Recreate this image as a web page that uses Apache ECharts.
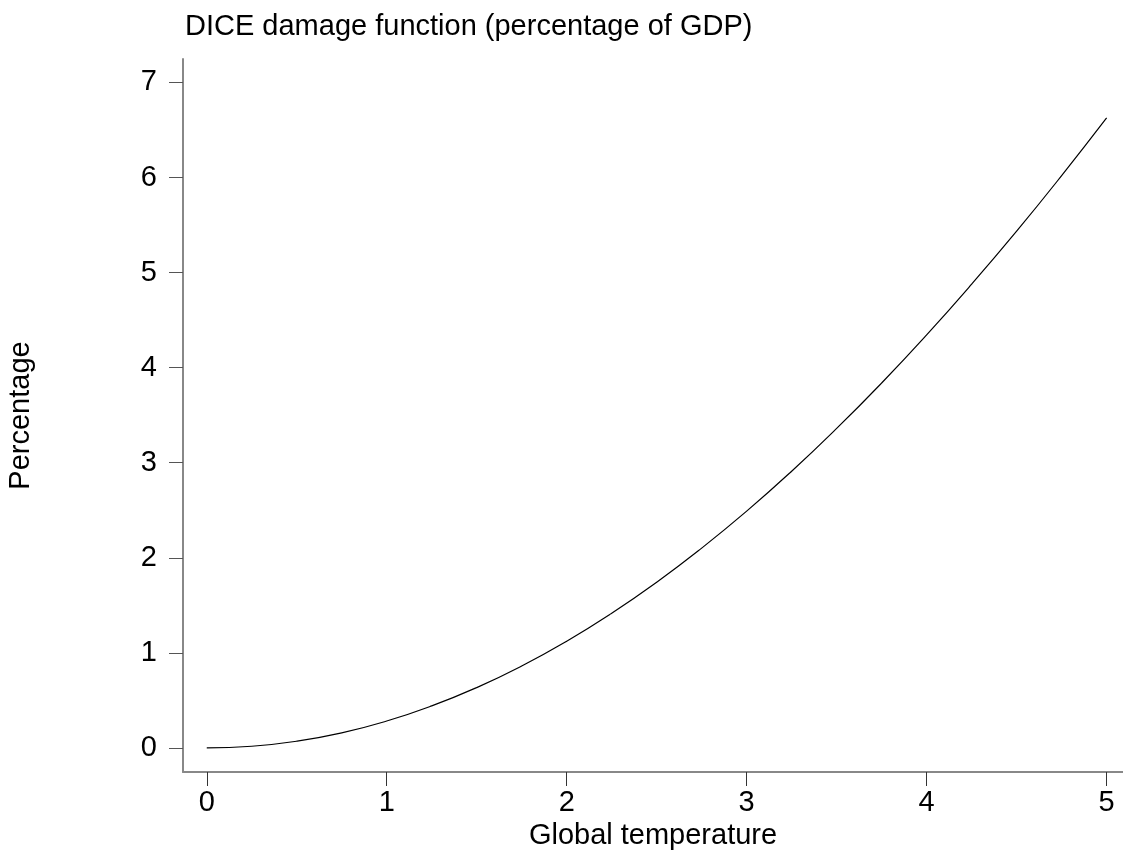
<!DOCTYPE html>
<html>
<head>
<meta charset="utf-8">
<script src="https://cdn.jsdelivr.net/npm/echarts@6/dist/echarts.min.js"></script>
<style>
  html, body { margin: 0; padding: 0; background: #fff; }
  #chart { width: 1123px; height: 851px; }
</style>
</head>
<body>
<div id="chart"></div>
<script>
// temperature (deg C) and damage (% of GDP)
let temps = [0, 0.25, 0.5, 0.75, 1, 1.25, 1.5, 1.75, 2, 2.25, 2.5, 2.75,
  3, 3.25, 3.5, 3.75, 4, 4.25, 4.5, 4.75, 5];
let damage = [0, 0.018, 0.071, 0.159, 0.283, 0.442, 0.635, 0.862, 1.123, 1.417,
  1.743, 2.102, 2.491, 2.911, 3.361, 3.839, 4.345, 4.878, 5.436, 6.02, 6.627];
let xTicks = [0, 1, 2, 3, 4, 5];
let yTicks = [0, 1, 2, 3, 4, 5, 6, 7];

let font = 'Liberation Sans, Arial, Helvetica, sans-serif';
let chart = echarts.init(document.getElementById('chart'), null, { renderer: 'canvas' });

let points = temps.map(function (t, i) { return [t, damage[i]]; });

chart.setOption({
  animation: false,
  backgroundColor: '#fff',
  textStyle: { fontFamily: font },
  title: {
    text: 'DICE damage function (percentage of GDP)',
    left: 180,
    top: 7,
    textStyle: { fontFamily: font, fontSize: 29, fontWeight: 'normal', color: '#000' }
  },
  grid: { left: 183, right: 0, top: 59, bottom: 79, containLabel: false, outerBoundsMode: 'none' },
  xAxis: {
    type: 'value',
    min: -0.132,
    max: 5.091,
    name: 'Global temperature',
    nameLocation: 'middle',
    nameGap: 40,
    nameTextStyle: { fontFamily: font, fontSize: 29, color: '#000' },
    axisLine: { show: true, onZero: false, lineStyle: { color: '#888', width: 2 } },
    axisTick: { show: true, customValues: xTicks, length: 14, lineStyle: { color: '#333', width: 1 } },
    axisLabel: { customValues: xTicks, margin: 16, fontFamily: font, fontSize: 29, color: '#000' },
    splitLine: { show: false }
  },
  yAxis: {
    type: 'value',
    min: -0.253,
    max: 7.247,
    name: 'Percentage',
    nameLocation: 'middle',
    nameGap: 148,
    nameTextStyle: { fontFamily: font, fontSize: 29, color: '#000' },
    axisLine: { show: true, onZero: false, lineStyle: { color: '#888', width: 2 } },
    axisTick: { show: true, customValues: yTicks, length: 14, lineStyle: { color: '#555', width: 1 } },
    axisLabel: { customValues: yTicks, margin: 26, fontFamily: font, fontSize: 29, color: '#000' },
    splitLine: { show: false }
  },
  series: [{
    type: 'line',
    data: points,
    smooth: true,
    showSymbol: false,
    lineStyle: { color: '#000', width: 1.2 }
  }]
});
</script>
</body>
</html>
